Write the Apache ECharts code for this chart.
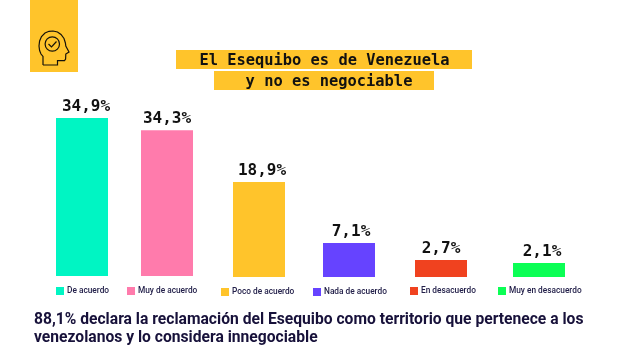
<!DOCTYPE html>
<html>
<head>
<meta charset="utf-8">
<style>
  html, body { margin: 0; padding: 0; background: #fff; }
  #chart { width: 638px; height: 358px; }
</style>
<script src="https://cdn.jsdelivr.net/npm/echarts@6/dist/echarts.min.js"></script>
</head>
<body>
<div id="chart"></div>
<script>
const categories = ['De acuerdo', 'Muy de acuerdo', 'Poco de acuerdo', 'Nada de acuerdo', 'En desacuerdo', 'Muy en desacuerdo']
const valueLabels = ['34,9%', '34,3%', '18,9%', '7,1%', '2,7%', '2,1%']
// the bars in the original are not to scale with their labels, so heights are read off separately
const barHeights = [34.9, 32.2, 21.0, 7.5, 3.75, 3.1]
const colors = ['#00F5C3', '#FF7BAC', '#FFC42B', '#6643FF', '#F0421F', '#0BFF55']
const titleLines = ['El Esequibo es de Venezuela', 'y no es negociable']
const footerLines = [
  '88,1% declara la reclamación del Esequibo como territorio que pertenece a los',
  'venezolanos y lo considera innegociable'
]

// layout of the hand placed columns, their labels and legend entries
const barLeft = [56, 141, 233, 323, 415, 513]
const barBottom = [276, 276, 277, 277, 277, 277]
const labelShift = [4, 0, 3, 2, 0, 3]
const legendLeft = [56, 127, 221, 313, 410, 498]
const legendTop = [287, 287, 288, 288, 287, 287]
const barW = 52
const plotH = 158
const INK = '#17113A'
const ICON = '#17130A'
const MONO = '"DejaVu Sans Mono", "Liberation Mono", monospace'

// head outline of the icon
const headOutline = [
  [43, 65], [43, 56.5], [41, 54], [39.6, 50.5], [39, 46], [39.6, 41], [41.5, 36.5], [45, 33], [49, 31.3],
  [53, 31], [57.5, 32], [61, 34.5], [64, 38.5], [65.4, 43], [65.8, 46], [69, 52], [65.8, 54], [65.6, 59],
  [64.5, 60.6], [57.5, 60.7], [57.5, 65], [43, 65]
]

const chart = echarts.init(document.getElementById('chart'), null, { renderer: 'canvas' })

chart.setOption({
  animation: false,
  backgroundColor: '#fff',
  grid: categories.map((c, i) => ({
    left: barLeft[i],
    width: barW,
    top: barBottom[i] - plotH,
    height: plotH
  })),
  xAxis: categories.map((c, i) => ({
    type: 'category',
    gridIndex: i,
    data: [c],
    show: false
  })),
  yAxis: categories.map((c, i) => ({
    type: 'value',
    gridIndex: i,
    min: 0,
    max: 34.9,
    show: false
  })),
  legend: categories.map((c, i) => ({
    data: [c],
    left: legendLeft[i],
    top: legendTop[i],
    padding: 0,
    itemWidth: 8,
    itemHeight: 8,
    itemGap: 0,
    selectedMode: false,
    icon: 'rect',
    textStyle: {
      color: '#23204A',
      fontFamily: 'Roboto',
      fontWeight: 500,
      fontSize: 8.3,
      padding: [0, 0, 0, -2]
    }
  })),
  series: categories.map((c, i) => ({
    name: c,
    type: 'bar',
    xAxisIndex: i,
    yAxisIndex: i,
    barWidth: '100%',
    data: [barHeights[i]],
    itemStyle: { color: colors[i] },
    label: {
      show: true,
      position: 'top',
      distance: 3,
      offset: [labelShift[i], 0],
      formatter: () => valueLabels[i],
      color: '#111',
      fontFamily: MONO,
      fontWeight: 'bold',
      fontSize: 16
    }
  })),
  graphic: [
    // icon block
    { type: 'rect', shape: { x: 30, y: 0, width: 48, height: 72 }, style: { fill: '#FFC42B' } },
    { type: 'polyline', shape: { points: headOutline }, style: { fill: 'none', stroke: ICON, lineWidth: 1.2 } },
    { type: 'circle', shape: { cx: 52.3, cy: 44, r: 7.2 }, style: { fill: 'none', stroke: ICON, lineWidth: 1.2 } },
    { type: 'polyline', shape: { points: [[48.5, 44], [51.5, 47], [56.5, 41.5]] }, style: { fill: 'none', stroke: ICON, lineWidth: 1.2 } },
    // title bands
    { type: 'rect', shape: { x: 176, y: 50, width: 296, height: 19 }, style: { fill: '#FFC42B' } },
    { type: 'rect', shape: { x: 214, y: 71, width: 220, height: 19 }, style: { fill: '#FFC42B' } },
    {
      type: 'text', x: 324.5, y: 61,
      style: { text: titleLines[0], fill: '#111', font: 'bold 15.4px ' + MONO, textAlign: 'center', textVerticalAlign: 'middle' }
    },
    {
      type: 'text', x: 329, y: 82,
      style: { text: titleLines[1], fill: '#111', font: 'bold 15.4px ' + MONO, textAlign: 'center', textVerticalAlign: 'middle' }
    },
    // footer
    {
      type: 'text', x: 34, y: 320,
      style: { text: footerLines[0], fill: INK, font: 'bold 15.65px Roboto', textAlign: 'left', textVerticalAlign: 'middle' }
    },
    {
      type: 'text', x: 34, y: 338.5,
      style: { text: footerLines[1], fill: INK, font: 'bold 15.65px Roboto', textAlign: 'left', textVerticalAlign: 'middle' }
    }
  ]
})
</script>
</body>
</html>
